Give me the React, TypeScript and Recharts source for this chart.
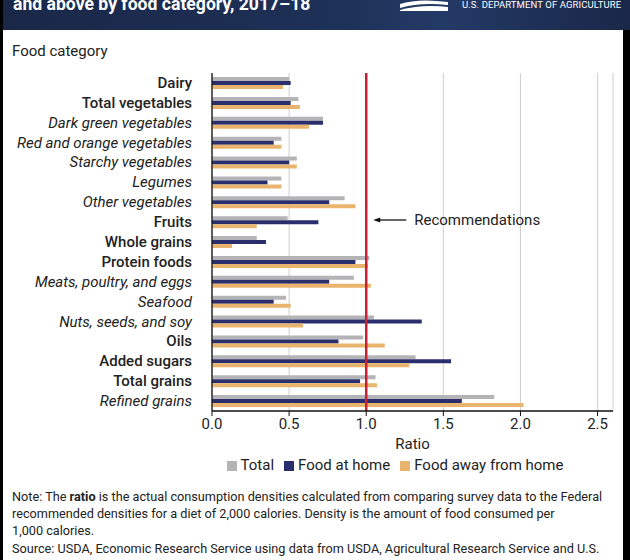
import React from "react"
import {
  BarChart,
  Bar,
  XAxis,
  YAxis,
  CartesianGrid,
  ReferenceLine,
  Legend,
} from "recharts"

const categories = [
  "Dairy",
  "Total vegetables",
  "Dark green vegetables",
  "Red and orange vegetables",
  "Starchy vegetables",
  "Legumes",
  "Other vegetables",
  "Fruits",
  "Whole grains",
  "Protein foods",
  "Meats, poultry, and eggs",
  "Seafood",
  "Nuts, seeds, and soy",
  "Oils",
  "Added sugars",
  "Total grains",
  "Refined grains",
]

// subcategories are drawn in italics
const subCategories = [
  "Dark green vegetables",
  "Red and orange vegetables",
  "Starchy vegetables",
  "Legumes",
  "Other vegetables",
  "Meats, poultry, and eggs",
  "Seafood",
  "Nuts, seeds, and soy",
  "Refined grains",
]

const seriesNames = ["Total", "Food at home", "Food away from home"]

const totalValues = [0.5, 0.56, 0.72, 0.45, 0.55, 0.45, 0.86, 0.49, 0.29, 1.02, 0.92, 0.48, 1.05, 0.98, 1.32, 1.06, 1.83]
const homeValues = [0.51, 0.51, 0.72, 0.4, 0.5, 0.36, 0.76, 0.69, 0.35, 0.93, 0.76, 0.4, 1.36, 0.82, 1.55, 0.96, 1.62]
const awayValues = [0.46, 0.57, 0.63, 0.45, 0.55, 0.45, 0.93, 0.29, 0.13, 1.01, 1.03, 0.51, 0.59, 1.12, 1.28, 1.07, 2.02]

const xTicks = [0, 0.5, 1, 1.5, 2, 2.5]

const data = categories.map((name, i) => ({
  name,
  total: totalValues[i],
  home: homeValues[i],
  away: awayValues[i],
}))

const FONT = "Roboto, 'Noto Sans', sans-serif"

function CategoryTick(props: any) {
  const { x, y, payload } = props
  const isSub = subCategories.includes(payload.value)
  return (
    <text
      x={x}
      y={y}
      dx={-12}
      textAnchor="end"
      dominantBaseline="central"
      fontFamily={FONT}
      fontSize={15}
      fontStyle={isSub ? "italic" : "normal"}
      fontWeight={isSub ? 400 : 500}
      fill="#222"
    >
      {payload.value}
    </text>
  )
}

function RecLabel(props: any) {
  const { viewBox } = props
  const x = viewBox.x
  const y = viewBox.y + 147
  return (
    <g>
      <line x1={x + 10} y1={y} x2={x + 40} y2={y} stroke="#111" strokeWidth={1.3} />
      <path d={`M${x + 7},${y} L${x + 14},${y - 2.5} L${x + 14},${y + 2.5} Z`} fill="#111" />
      <text x={x + 48} y={y} dominantBaseline="central" fontFamily={FONT} fontSize={15} fill="#222">
        Recommendations
      </text>
    </g>
  )
}

export default function App() {
  return (
    <div
      style={{
        position: "absolute",
        left: 0,
        top: 0,
        width: 630,
        height: 560,
        overflow: "hidden",
        background: "#fff",
        fontFamily: FONT,
        color: "#222",
      }}
    >
      <div
        style={{
          position: "absolute",
          left: 0,
          top: 0,
          width: 630,
          height: 30,
          overflow: "hidden",
          background: "linear-gradient(90deg, #1a2747 0%, #1e3158 55%, #243a66 70%, #1a2748 100%)",
        }}
      >
        <div
          style={{
            position: "absolute",
            left: 13,
            top: -6,
            fontSize: 17.6,
            fontWeight: 700,
            color: "#fff",
            whiteSpace: "nowrap",
          }}
        >
          and above by food category, 2017–18
        </div>
        <svg width={60} height={20} style={{ position: "absolute", left: 398, top: 0 }}>
          <path d="M2,4 Q20,-2 50,2 L50,5 Q22,2 2,8 Z" fill="#fff" />
          <path d="M2,10 Q24,4 50,7 L50,11 L2,11 Z" fill="#fff" />
        </svg>
        <div
          style={{
            position: "absolute",
            left: 462,
            top: -1,
            fontSize: 9.5,
            color: "#fff",
            whiteSpace: "nowrap",
            letterSpacing: 0.1,
          }}
        >
          U.S. DEPARTMENT OF AGRICULTURE
        </div>
      </div>

      <div style={{ position: "absolute", left: 12, top: 42, fontSize: 15 }}>Food category</div>

      <div style={{ position: "absolute", left: 0, top: 0 }}>
        <BarChart
          width={630}
          height={480}
          data={data}
          layout="vertical"
          margin={{ top: 73, right: 17, left: 0, bottom: 0 }}
          barGap={0}
          barSize={4}
        >
          <CartesianGrid horizontal={false} stroke="#cfcfcf" />
          <XAxis
            type="number"
            domain={[0, 2.6]}
            ticks={xTicks}
            tickFormatter={(v: number) => v.toFixed(1)}
            axisLine={{ stroke: "#111", strokeWidth: 1.3 }}
            tickLine={{ stroke: "#111" }}
            tickSize={5}
            tick={{ fill: "#222", fontSize: 15, fontFamily: FONT }}
            height={45}
            label={{
              value: "Ratio",
              position: "insideBottom",
              offset: 7,
              fill: "#222",
              fontSize: 15,
              fontFamily: FONT,
            }}
          />
          <YAxis
            type="category"
            dataKey="name"
            width={212}
            axisLine={{ stroke: "#111", strokeWidth: 1.3 }}
            tickLine={false}
            tick={<CategoryTick />}
            interval={0}
          />
          <Legend
            verticalAlign="bottom"
            height={24}
            iconType="square"
            iconSize={10}
            itemSorter={(item: any) => seriesNames.indexOf(item.value)}
            wrapperStyle={{ fontFamily: FONT, fontSize: 15, left: 180, width: 440 }}
            formatter={(value: string) => <span style={{ color: "#222" }}>{value}</span>}
          />
          <Bar dataKey="total" name={seriesNames[0]} fill="#b4b4b7" isAnimationActive={false} />
          <Bar dataKey="home" name={seriesNames[1]} fill="#2b2e6c" isAnimationActive={false} />
          <Bar dataKey="away" name={seriesNames[2]} fill="#e9b56e" isAnimationActive={false} />
          <ReferenceLine x={1} stroke="#c91f32" strokeWidth={2.5} label={<RecLabel />} />
        </BarChart>
      </div>

      <div
        style={{
          position: "absolute",
          left: 12,
          top: 488,
          fontSize: 12.7,
          lineHeight: "17.2px",
          whiteSpace: "nowrap",
        }}
      >
        <div>
          Note: The <b>ratio</b> is the actual consumption densities calculated from comparing survey data to the Federal
          <br />
          recommended densities for a diet of 2,000 calories. Density is the amount of food consumed per
          <br />
          1,000 calories.
        </div>
        <div>
          Source: USDA, Economic Research Service using data from USDA, Agricultural Research Service and U.S.
          <br />
          Department of Health and Human Services, 2017–18 What We Eat in America, National Health and Nutrition
        </div>
      </div>

      <div style={{ position: "absolute", left: 0, top: 0, width: 3, height: 560, background: "#000" }} />
      <div style={{ position: "absolute", left: 623, top: 30, width: 7, height: 530, background: "#000" }} />
    </div>
  )
}
